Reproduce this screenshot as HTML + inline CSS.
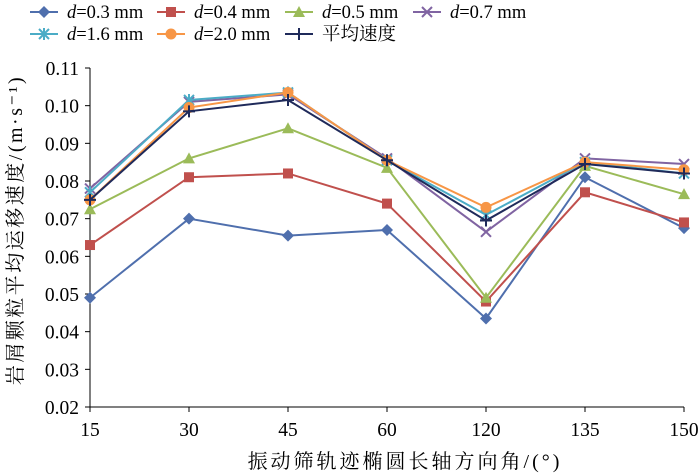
<!DOCTYPE html>
<html><head><meta charset="utf-8">
<style>
body{margin:0;background:#fff;}
svg{display:block;font-family:"Liberation Serif","Noto Serif CJK SC",serif;}
</style></head>
<body>
<svg id="chart" width="700" height="474" xmlns="http://www.w3.org/2000/svg">
<g id="axes"></g><g id="series"></g><g id="legend"></g>
</svg>
<script>
const categories = ["15","30","45","60","120","135","150"];
const yTicks = [0.02,0.03,0.04,0.05,0.06,0.07,0.08,0.09,0.10,0.11];
const yTickLabels = ["0.02","0.03","0.04","0.05","0.06","0.07","0.08","0.09","0.10","0.11"];
const s03 = [0.049,0.070,0.0655,0.067,0.0435,0.081,0.0675];
const s04 = [0.063,0.081,0.082,0.074,0.048,0.077,0.069];
const s05 = [0.0725,0.086,0.094,0.0835,0.049,0.084,0.0765];
const s07 = [0.078,0.101,0.103,0.086,0.0665,0.086,0.0845];
const s16 = [0.077,0.1015,0.1035,0.0855,0.071,0.085,0.082];
const s20 = [0.075,0.0995,0.1035,0.0855,0.073,0.085,0.083];
const sAvg = [0.075,0.0985,0.1015,0.0855,0.0695,0.0845,0.082];
const seriesNames = ["0.3","0.4","0.5","0.7","1.6","2.0","平均速度"];

const NS="http://www.w3.org/2000/svg";
const X0=90,DX=99,Y0=407,Y1=68,VMIN=0.02,VMAX=0.11;
const xs=i=>X0+i*DX;
const ys=v=>Y0-(v-VMIN)/(VMAX-VMIN)*(Y0-Y1);
function mk(tag,attrs,parent,text){const e=document.createElementNS(NS,tag);for(const k in attrs)e.setAttribute(k,attrs[k]);if(text!==undefined)e.textContent=text;parent.appendChild(e);return e;}
const axes=document.getElementById('axes');
let a=mk('line',{x1:X0,y1:Y1,x2:X0,y2:Y0,stroke:'#000','stroke-width':1},axes);


a=mk('line',{x1:X0,y1:Y0,x2:xs(6),y2:Y0,stroke:'#000','stroke-width':1},axes);


yTicks.forEach((v,i)=>{
  mk('line',{x1:X0-5,y1:ys(v),x2:X0,y2:ys(v),stroke:'#000'},axes);
  const t=mk('text',{x:X0-11,y:ys(v)+7,'text-anchor':'end','font-size':19.5},axes,yTickLabels[i]);
  
  
});
categories.forEach((c,i)=>{
  mk('line',{x1:xs(i),y1:Y0,x2:xs(i),y2:Y0+5,stroke:'#000'},axes);
  const t=mk('text',{x:xs(i),y:Y0+29,'text-anchor':'middle','font-size':19.5},axes,c);
  
  
});
let t=mk('text',{x:405,y:468,'text-anchor':'middle','font-size':20,'letter-spacing':3},axes,'振动筛轨迹椭圆长轴方向角/(°)');


t=mk('text',{x:0,y:0,'text-anchor':'middle','font-size':20,'letter-spacing':2.5,transform:'translate(22,230) rotate(-90)'},axes,'岩屑颗粒平均运移速度/(m·s⁻¹)');



const colors=['#4f6fad','#c0504d','#9bbb59','#8064a2','#4bacc6','#f79646','#1f2a5a'];
const markers=['diamond','square','triangle','x','star','circle','plus'];
function marker(g,type,x,y,c){
  if(type==='diamond')mk('path',{d:`M${x} ${y-6}L${x+6} ${y}L${x} ${y+6}L${x-6} ${y}Z`,fill:c},g);
  else if(type==='square')mk('rect',{x:x-5,y:y-5,width:10,height:10,fill:c},g);
  else if(type==='triangle')mk('path',{d:`M${x} ${y-6}L${x+6} ${y+5}L${x-6} ${y+5}Z`,fill:c},g);
  else if(type==='circle')mk('circle',{cx:x,cy:y,r:5.5,fill:c},g);
  else if(type==='x')mk('path',{d:`M${x-5} ${y-5}L${x+5} ${y+5}M${x-5} ${y+5}L${x+5} ${y-5}`,stroke:c,'stroke-width':2},g);
  else if(type==='star')mk('path',{d:`M${x-5} ${y-5}L${x+5} ${y+5}M${x-5} ${y+5}L${x+5} ${y-5}M${x} ${y-6}L${x} ${y+6}`,stroke:c,'stroke-width':2},g);
  else if(type==='plus')mk('path',{d:`M${x-6} ${y}L${x+6} ${y}M${x} ${y-6}L${x} ${y+6}`,stroke:c,'stroke-width':2},g);
}
const allSeries=[s03,s04,s05,s07,s16,s20,sAvg];
const sg=document.getElementById('series');
allSeries.forEach((s,k)=>{
  const g=mk('g',{},sg);
  
  
  mk('polyline',{points:s.map((v,i)=>xs(i)+','+ys(v)).join(' '),fill:'none',stroke:colors[k],'stroke-width':2},g);
  s.forEach((v,i)=>marker(g,markers[k],xs(i),ys(v),colors[k]));
});
const lg=document.getElementById('legend');
const lx=[30,157,285,413];
seriesNames.forEach((n,k)=>{
  const x=lx[k%4],y=k<4?12:34;
  const g=mk('g',{},lg);
  
  
  mk('line',{x1:x,y1:y,x2:x+28,y2:y,stroke:colors[k],'stroke-width':2},g);
  marker(g,markers[k],x+14,y,colors[k]);
  const tx=mk('text',{x:x+37,y:y+6,'font-size':18.5},g);
  if(k<6){mk('tspan',{'font-style':'italic'},tx,'d');mk('tspan',{},tx,'='+n+' mm');}
  else tx.textContent=n;
});
</script>
</body></html>
